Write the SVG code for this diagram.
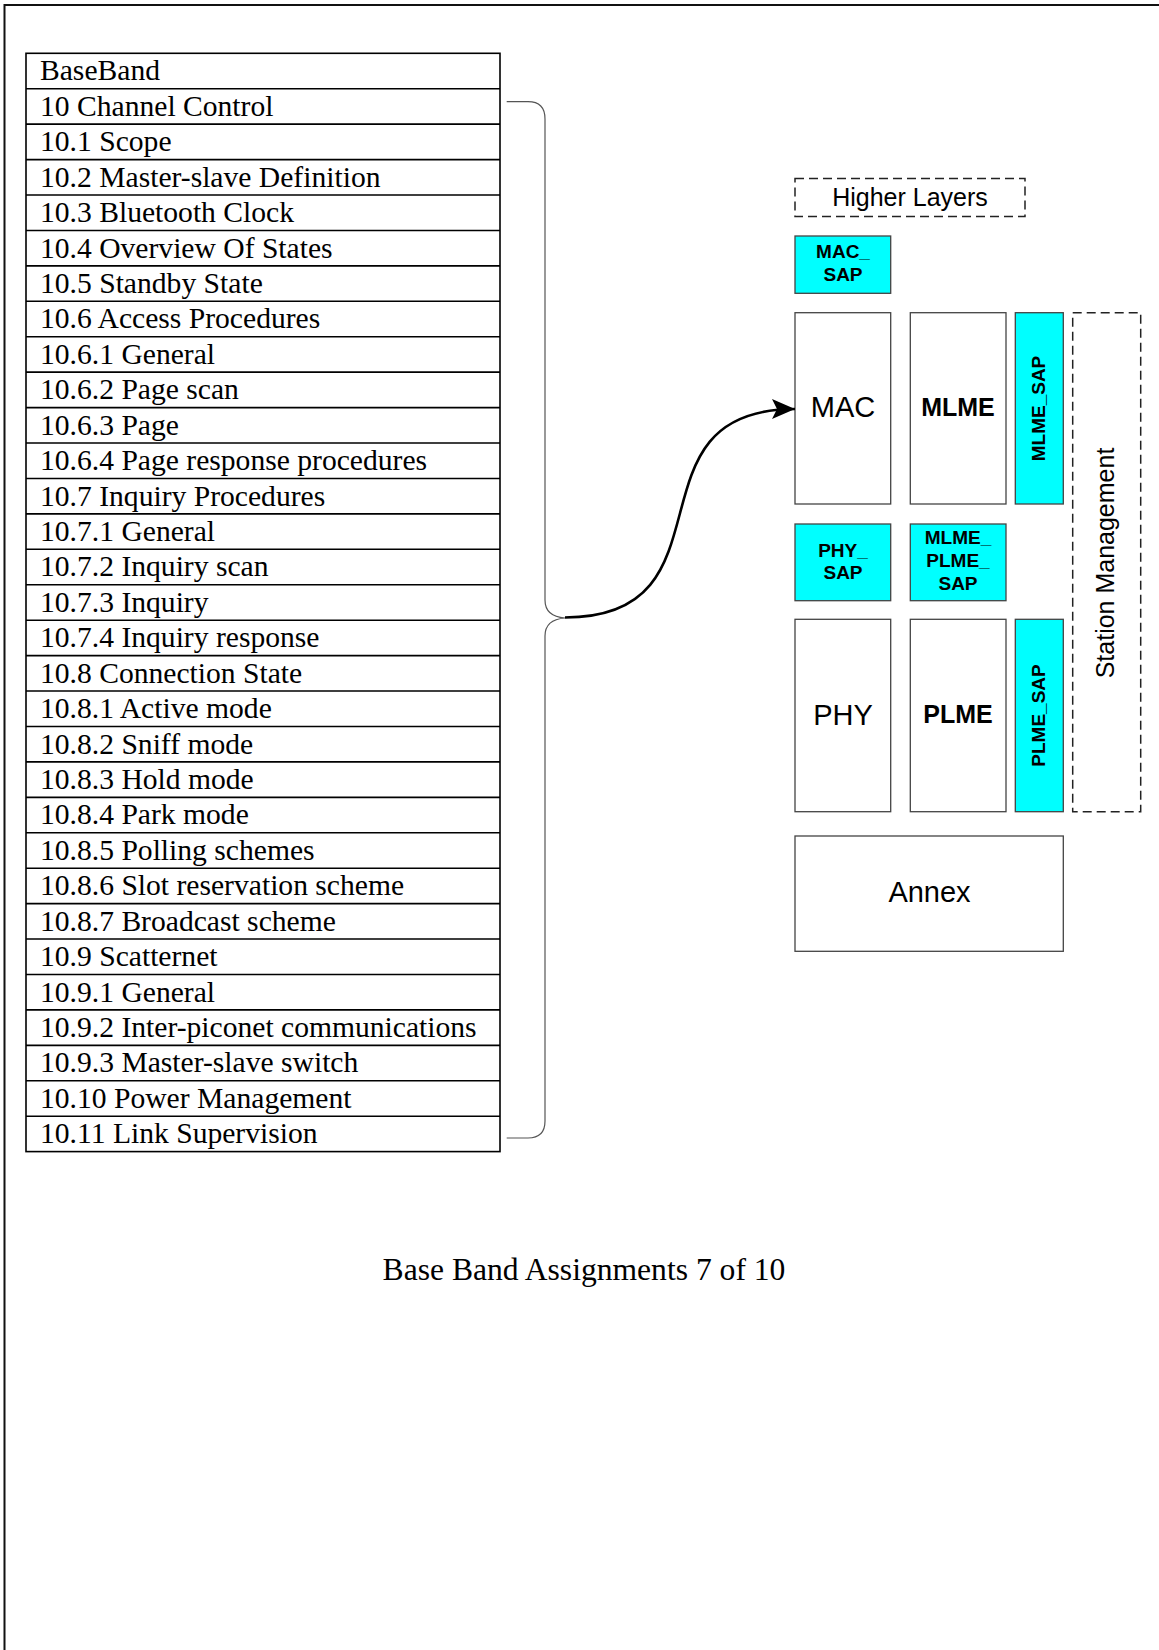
<svg xmlns="http://www.w3.org/2000/svg" width="1159" height="1650" viewBox="0 0 1159 1650">
<style>
.pg{fill:none;stroke:#111;stroke-width:2}
.tb{fill:none;stroke:#000;stroke-width:1.6}
.tt{font-family:"Liberation Serif","Times New Roman",serif;font-size:29.6px;fill:#000}
.cap{font-family:"Liberation Serif","Times New Roman",serif;font-size:31.6px;fill:#000}
.box{fill:#fff;stroke:#444;stroke-width:1.3}
.sap{fill:#00ffff;stroke:#444;stroke-width:1.3}
.dash{fill:none;stroke:#222;stroke-width:1.5;stroke-dasharray:9 5}
.lbl{font-family:"Liberation Sans",Arial,sans-serif;fill:#000;text-anchor:middle}
.big{font-size:29px}
.bb{font-size:25px;font-weight:bold}
.sm{font-size:19px;font-weight:bold}
.hl{font-size:25px}
.brace{fill:none;stroke:#555;stroke-width:1.2}
.conn{fill:none;stroke:#000;stroke-width:2.6}
</style>
<defs>
<marker id="ah" markerUnits="userSpaceOnUse" markerWidth="24" markerHeight="22" refX="23" refY="11" orient="auto">
<path d="M0,1 L23,11 L0,21 L5,11 Z" fill="#000"/>
</marker>
</defs>
<path class="pg" d="M4.5,1650 V5 H1159"/>
<g id="table">
<rect class="tb" x="26" y="53.3" width="474" height="1098.3"/>
<path class="tb" d="M26,88.73H500M26,124.16H500M26,159.59H500M26,195.02H500M26,230.45H500M26,265.88H500M26,301.31H500M26,336.74H500M26,372.17H500M26,407.6H500M26,443.03H500M26,478.46H500M26,513.89H500M26,549.32H500M26,584.75H500M26,620.18H500M26,655.61H500M26,691.04H500M26,726.47H500M26,761.9H500M26,797.33H500M26,832.76H500M26,868.19H500M26,903.62H500M26,939.05H500M26,974.48H500M26,1009.91H500M26,1045.34H500M26,1080.77H500M26,1116.2H500"/>
<g id="row-baseband"><text class="tt" x="40" y="80.3">BaseBand</text></g>
<g id="row-10"><text class="tt" x="40" y="115.7">10 Channel Control</text></g>
<g id="row-10-1"><text class="tt" x="40" y="151.2">10.1 Scope</text></g>
<g id="row-10-2"><text class="tt" x="40" y="186.6">10.2 Master-slave Definition</text></g>
<g id="row-10-3"><text class="tt" x="40" y="222">10.3 Bluetooth Clock</text></g>
<g id="row-10-4"><text class="tt" x="40" y="257.5">10.4 Overview Of States</text></g>
<g id="row-10-5"><text class="tt" x="40" y="292.9">10.5 Standby State</text></g>
<g id="row-10-6"><text class="tt" x="40" y="328.3">10.6 Access Procedures</text></g>
<g id="row-10-6-1"><text class="tt" x="40" y="363.7">10.6.1 General</text></g>
<g id="row-10-6-2"><text class="tt" x="40" y="399.2">10.6.2 Page scan</text></g>
<g id="row-10-6-3"><text class="tt" x="40" y="434.6">10.6.3 Page</text></g>
<g id="row-10-6-4"><text class="tt" x="40" y="470">10.6.4 Page response procedures</text></g>
<g id="row-10-7"><text class="tt" x="40" y="505.5">10.7 Inquiry Procedures</text></g>
<g id="row-10-7-1"><text class="tt" x="40" y="540.9">10.7.1 General</text></g>
<g id="row-10-7-2"><text class="tt" x="40" y="576.3">10.7.2 Inquiry scan</text></g>
<g id="row-10-7-3"><text class="tt" x="40" y="611.8">10.7.3 Inquiry</text></g>
<g id="row-10-7-4"><text class="tt" x="40" y="647.2">10.7.4 Inquiry response</text></g>
<g id="row-10-8"><text class="tt" x="40" y="682.6">10.8 Connection State</text></g>
<g id="row-10-8-1"><text class="tt" x="40" y="718">10.8.1 Active mode</text></g>
<g id="row-10-8-2"><text class="tt" x="40" y="753.5">10.8.2 Sniff mode</text></g>
<g id="row-10-8-3"><text class="tt" x="40" y="788.9">10.8.3 Hold mode</text></g>
<g id="row-10-8-4"><text class="tt" x="40" y="824.3">10.8.4 Park mode</text></g>
<g id="row-10-8-5"><text class="tt" x="40" y="859.8">10.8.5 Polling schemes</text></g>
<g id="row-10-8-6"><text class="tt" x="40" y="895.2">10.8.6 Slot reservation scheme</text></g>
<g id="row-10-8-7"><text class="tt" x="40" y="930.6">10.8.7 Broadcast scheme</text></g>
<g id="row-10-9"><text class="tt" x="40" y="966">10.9 Scatternet</text></g>
<g id="row-10-9-1"><text class="tt" x="40" y="1001.5">10.9.1 General</text></g>
<g id="row-10-9-2"><text class="tt" x="40" y="1036.9">10.9.2 Inter-piconet communications</text></g>
<g id="row-10-9-3"><text class="tt" x="40" y="1072.3">10.9.3 Master-slave switch</text></g>
<g id="row-10-10"><text class="tt" x="40" y="1107.8">10.10 Power Management</text></g>
<g id="row-10-11"><text class="tt" x="40" y="1143.2">10.11 Link Supervision</text></g>
</g>
<g id="higher-layers"><rect class="dash" x="795" y="178.5" width="230" height="38"/><text class="lbl hl" x="910" y="206">Higher Layers</text></g>
<g id="mac-sap"><rect class="sap" x="795" y="236" width="95.7" height="57.3"/><text class="lbl sm" x="843" y="258">MAC_</text><text class="lbl sm" x="843" y="280.7">SAP</text></g>
<g id="mac"><rect class="box" x="795" y="312.7" width="95.7" height="191.3"/><text class="lbl big" x="843" y="417">MAC</text></g>
<g id="mlme"><rect class="box" x="910.3" y="312.7" width="95.7" height="191.3"/><text class="lbl bb" x="958" y="415.5">MLME</text></g>
<g id="mlme-sap"><rect class="sap" x="1015.3" y="312.7" width="48" height="191.3"/><text class="lbl sm" transform="translate(1044.8,408.5) rotate(-90)" x="0" y="0">MLME_SAP</text></g>
<g id="station-management"><rect class="dash" x="1072.7" y="312.7" width="68" height="499"/><text class="lbl hl" transform="translate(1114,563) rotate(-90)" x="0" y="0">Station Management</text></g>
<g id="phy-sap"><rect class="sap" x="795" y="524" width="95.7" height="76.7"/><text class="lbl sm" x="843" y="556.7">PHY_</text><text class="lbl sm" x="843" y="579.3">SAP</text></g>
<g id="mlme-plme-sap"><rect class="sap" x="910.3" y="524" width="95.7" height="76.7"/><text class="lbl sm" x="958" y="543.5">MLME_</text><text class="lbl sm" x="958" y="566.5">PLME_</text><text class="lbl sm" x="958" y="589.5">SAP</text></g>
<g id="phy"><rect class="box" x="795" y="619.3" width="95.7" height="192.4"/><text class="lbl big" x="843" y="725">PHY</text></g>
<g id="plme"><rect class="box" x="910.3" y="619.3" width="95.7" height="192.4"/><text class="lbl bb" x="958" y="723">PLME</text></g>
<g id="plme-sap"><rect class="sap" x="1015.3" y="619.3" width="48" height="192.4"/><text class="lbl sm" transform="translate(1044.8,715.5) rotate(-90)" x="0" y="0">PLME_SAP</text></g>
<g id="annex"><rect class="box" x="795" y="836" width="268.3" height="115.3"/><text class="lbl big" x="929.5" y="902">Annex</text></g>
<g id="connectors">
<path class="brace" d="M506.7,101.7 H528 Q545,101.7 545,119 V600 Q545,616.5 565,618 Q545,619.5 545,636 V1121 Q545,1138 528,1138 H506.7"/>
<path class="conn" d="M565,617.5 C740,617.5 620,409 795,409" marker-end="url(#ah)"/>
</g>
<text class="cap" x="584" y="1279.5" text-anchor="middle">Base Band Assignments 7 of 10</text>
</svg>
